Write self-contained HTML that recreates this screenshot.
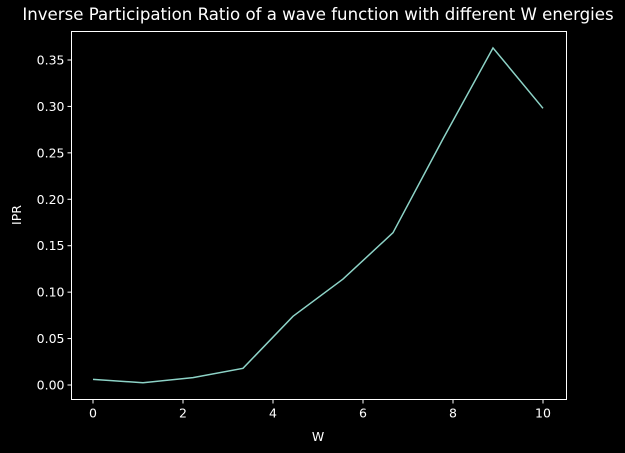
<!DOCTYPE html>
<html><head><meta charset="utf-8"><style>
body{margin:0;background:#000;}
svg{display:block;font-family:"DejaVu Sans","Liberation Sans",sans-serif;}
</style></head><body>
<svg id="chart" width="625" height="453" viewBox="0 0 625 453">
<rect width="625" height="453" fill="#000"/>
<text x="318" y="20" fill="#fff" font-size="16.6" text-anchor="middle">Inverse Participation Ratio of a wave function with different W energies</text>
<g id="plot"></g>
<text x="318" y="441" fill="#fff" font-size="12.5" text-anchor="middle">W</text>
<text x="21" y="215" fill="#fff" font-size="12.5" text-anchor="middle" transform="rotate(-90 21 215)">IPR</text>
</svg>
<script>
const xValues=[0,1.111,2.222,3.333,4.444,5.556,6.667,7.778,8.889,10];
const yValues=[0.006,0.0025,0.008,0.018,0.074,0.114,0.164,0.265,0.363,0.298];
const xTicks=[0,2,4,6,8,10];
const yTicks=[0,0.05,0.10,0.15,0.20,0.25,0.30,0.35];
const L=71.5,R=566.5,T=31.5,B=399.5;
const xs=v=>93+v*45;
const ys=v=>385-v*928.6;
const NS="http://www.w3.org/2000/svg";
const g=document.getElementById('plot');
function mk(t,a){const e=document.createElementNS(NS,t);for(const k in a)e.setAttribute(k,a[k]);g.appendChild(e);return e;}
const frame=mk('rect',{x:L,y:T,width:R-L,height:B-T,fill:'none',stroke:'#fff','stroke-width':1});


xTicks.forEach(v=>{
 const x=xs(v);
 const tk=mk('line',{x1:x,x2:x,y1:B,y2:B+4,stroke:'#fff'});
 
 
 const t=mk('text',{x:x,y:B+18,fill:'#fff','font-size':12.5,'text-anchor':'middle'});
 t.textContent=String(v);
 
 
});
yTicks.forEach(v=>{
 const y=ys(v);
 const tk=mk('line',{x1:L-4,x2:L,y1:y,y2:y,stroke:'#fff'});
 
 
 const t=mk('text',{x:L-7,y:y+4.5,fill:'#fff','font-size':12.5,'text-anchor':'end'});
 t.textContent=v.toFixed(2);
 
 
});
const pts=xValues.map((x,i)=>xs(x).toFixed(1)+','+ys(yValues[i]).toFixed(1)).join(' ');
const line=mk('polyline',{points:pts,fill:'none',stroke:'#8dd3c7','stroke-width':1.5});


</script>
</body></html>
